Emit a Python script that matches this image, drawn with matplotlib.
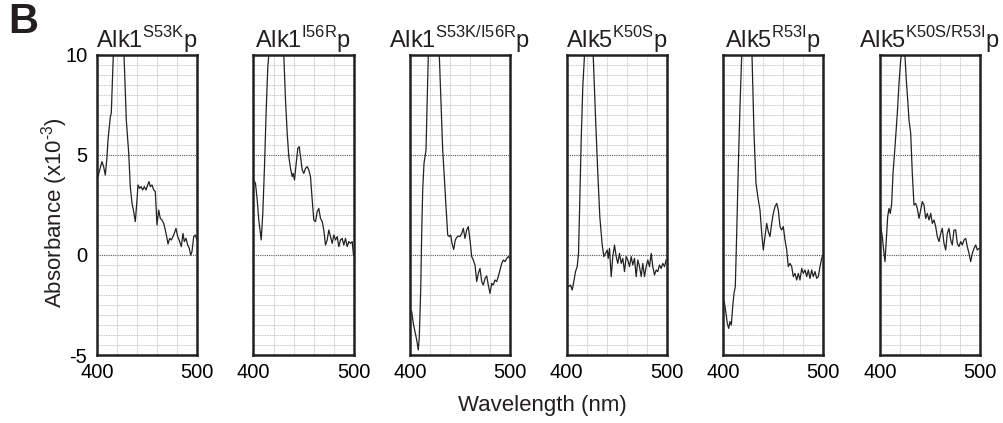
import numpy as np
import matplotlib.pyplot as plt
from matplotlib.ticker import MultipleLocator

plt.rcParams['font.family'] = ['Liberation Sans', 'DejaVu Sans']
plt.rcParams['mathtext.fontset'] = 'custom'
plt.rcParams['mathtext.rm'] = 'Liberation Sans'

# difference spectra (absorbance x1e-3) for each mutant, 400-500 nm
titles = [
    r"Alk1$^{\mathregular{S53K}}$p",
    r"Alk1$^{\mathregular{I56R}}$p",
    r"Alk1$^{\mathregular{S53K/I56R}}$p",
    r"Alk5$^{\mathregular{K50S}}$p",
    r"Alk5$^{\mathregular{R53I}}$p",
    r"Alk5$^{\mathregular{K50S/R53I}}$p",
]

alk1_s53k_wl = [400, 402.7, 405, 406.7, 408.3, 410, 411, 412.3, 413.3, 414.3, 416.3, 421, 427,
                429.3, 431.7, 433.3, 435, 436.7, 438.3, 440, 441, 442.7, 444, 445.7, 447.3, 449,
                450.7, 452, 453.3, 455, 456.7, 458.3, 460, 461.7, 463.3, 465, 466.7, 468.3, 470,
                471, 472.7, 474.3, 476, 477.3, 479, 480.7, 482.7, 484.3, 486, 487.3, 489, 490.7,
                492.3, 493.7, 495, 496.7, 498.3, 500]
alk1_s53k_abs = [3.75, 4.25, 4.67, 4.4, 4.0, 4.9, 5.75, 6.4, 6.9, 7.1, 10, 14, 10,
                 6.75, 5.1, 3.4, 2.6, 2.17, 1.67, 2.75, 3.5, 3.33, 3.42, 3.25, 3.42, 3.25,
                 3.5, 3.67, 3.42, 3.5, 3.25, 3.17, 1.5, 2.25, 1.83, 1.75, 1.58, 1.25, 0.83,
                 0.55, 0.83, 0.75, 0.92, 1.08, 1.33, 0.92, 0.67, 0.42, 1.08, 0.67, 0.83, 0.5,
                 0.33, 0.0, 0.17, 0.92, 1.0, 0.75]

alk1_i56r_wl = [400.3, 402, 403.7, 405.3, 407.7, 409.3, 411, 412.7, 414.3, 415.3, 423, 430.3,
                432, 433.7, 435.3, 437, 438.7, 439.7, 441, 442.7, 444.3, 445.7, 447, 448.7,
                450.3, 452, 453.7, 455.3, 457, 458.7, 460.3, 462, 463.7, 465.3, 467, 468.7,
                470.3, 472, 473.7, 475.3, 477, 478.7, 480.3, 482, 483.7, 485.3, 487, 488.7,
                490.3, 492, 493.7, 495.3, 497, 498.7, 500]
alk1_i56r_abs = [3.75, 3.58, 2.75, 1.75, 0.75, 2.08, 4.42, 7.25, 9.4, 10, 14, 10,
                 7.75, 6.08, 4.92, 4.33, 3.92, 4.08, 3.75, 4.58, 5.33, 5.42, 4.92, 4.25,
                 4.08, 4.33, 4.42, 4.25, 3.92, 2.75, 1.75, 1.67, 2.17, 2.33, 1.83, 1.67,
                 1.25, 0.5, 0.75, 1.25, 0.92, 0.58, 1.0, 0.75, 0.92, 0.42, 0.75, 0.83,
                 0.5, 0.83, 0.42, 0.67, 0.58, 0.67, 0.0]

alk1_dbl_wl = [400, 401.7, 403.3, 405, 406.7, 408.3, 409.3, 410.7, 411.7, 412.7, 414, 416,
               418.3, 424, 429.3, 432.7, 434.3, 436, 437.7, 439.3, 440.7, 442, 443.7, 445.3,
               446.7, 448.3, 450, 451.7, 453.3, 455, 456.7, 458.3, 460, 461.7, 463.3, 465,
               466.7, 468.3, 470, 471.7, 473.3, 475, 476.7, 478.3, 480, 481.7, 483.3, 485,
               486.7, 488.3, 490, 491.7, 493.3, 495, 496.7, 498.3, 500]
alk1_dbl_abs = [-2.75, -2.83, -3.42, -3.83, -4.25, -4.75, -4.08, -1.75, 1.08, 3.25, 4.58, 5.25,
                10, 14, 10, 5.25, 3.92, 2.42, 1.0, 0.92, 1.0, 0.58, 0.28, 0.75,
                0.88, 0.95, 0.92, 1.08, 1.33, 0.83, 1.25, 1.42, 0.75, -0.08, -0.25, -0.5,
                -1.33, -0.92, -0.67, -1.33, -1.5, -1.17, -1.05, -1.5, -1.92, -1.42, -1.5, -1.25,
                -1.33, -1.08, -0.75, -0.42, -0.25, -0.33, -0.17, -0.08, -0.17]

alk5_k50s_wl = [400.7, 402.3, 404, 405.7, 407.3, 409, 410.7, 412, 413.3, 414.7, 416.3, 418,
                422, 426.7, 429, 431.3, 433.3, 435.7, 437.3, 439, 440.7, 441.7, 443, 444.7,
                446.3, 448, 449.7, 451.3, 453, 454.7, 456.3, 458, 459.7, 461.3, 463, 464.7,
                466.3, 468, 469.7, 471.3, 473, 474.7, 476.3, 478, 479.7, 481.3, 483, 484.7,
                486.3, 488, 489.7, 491.3, 493, 494.7, 496.3, 498, 499.7]
alk5_k50s_abs = [-1.5, -1.58, -1.5, -1.75, -1.33, -0.83, -0.58, 0.08, 2.75, 5.75, 8.42, 10,
                 14, 10, 6.92, 4.08, 1.92, 0.5, -0.08, 0.08, 0.25, -0.17, 0.33, -1.08,
                 -0.08, 0.5, -0.08, -0.42, 0.08, -0.42, -0.17, -0.83, -0.08, -0.25, -0.58, -0.08,
                 -0.5, -0.17, -1.08, -0.25, -0.58, -1.08, -0.42, -1.08, -0.58, -0.25, -0.58, 0.08,
                 -0.58, -1.0, -0.75, -0.83, -0.5, -0.67, -0.42, -0.58, -0.25]

alk5_r53i_wl = [401.3, 403, 404.3, 405.7, 407, 408.3, 409.7, 411, 412.3, 413.7, 415.3, 417,
                418.7, 424, 429, 431, 433, 435.3, 437, 438.7, 440.3, 442, 443.7, 445.3,
                447, 448.7, 450.3, 452, 453.7, 455.3, 457, 458.7, 460.3, 462, 463.7, 465.3,
                467, 468.7, 470.3, 472, 473.7, 475.3, 477, 478.7, 480.3, 482, 483.7, 485.3,
                487, 488.7, 490.3, 492, 493.7, 495.3, 497, 498.7, 500]
alk5_r53i_abs = [-2.33, -2.92, -3.42, -3.67, -3.33, -3.5, -2.58, -1.92, -1.58, 1.08, 4.42, 7.42,
                 10, 14, 10, 6.08, 3.58, 2.75, 2.25, 1.08, 0.25, 0.92, 1.58, 1.17,
                 0.92, 1.58, 2.08, 2.42, 2.58, 2.25, 1.42, 1.25, 1.42, 0.75, 0.25, -0.58,
                 -0.42, -0.58, -1.08, -0.92, -1.25, -0.92, -1.25, -0.67, -0.92, -0.75, -1.08, -0.75,
                 -1.17, -0.75, -1.08, -0.83, -1.17, -1.08, -0.58, -0.17, 0.0]

alk5_dbl_wl = [400.7, 402.3, 404, 405, 406.3, 407.7, 409, 410.3, 411.7, 413, 414.3, 415.7,
               417.3, 419, 420.7, 421.7, 423, 425, 426.3, 427.7, 429, 430.7, 432.3, 434,
               435.7, 437.3, 439, 440.7, 442.3, 444, 445.7, 447.3, 449, 450.7, 452.3, 454,
               455.7, 457.3, 459, 460.7, 462.3, 464, 465.7, 467.3, 469, 470.7, 472.3, 474,
               475.7, 477.3, 479, 480.7, 482.3, 484, 485.7, 487.3, 489, 490.7, 492.3, 494,
               495.7, 497.3, 499]
alk5_dbl_abs = [1.42, 0.92, 0.08, -0.33, 0.75, 1.92, 2.33, 2.08, 2.58, 4.08, 4.92, 5.92,
                7.08, 8.58, 9.75, 10.1, 10.3, 9.92, 8.75, 7.75, 6.75, 6.08, 4.08, 2.5,
                2.58, 2.33, 1.83, 2.25, 2.67, 2.5, 1.83, 2.08, 1.75, 2.08, 1.58, 1.75,
                1.42, 0.92, 0.67, 1.08, 1.33, 0.58, 0.25, 1.08, 1.33, 0.75, 0.5, 1.25,
                1.25, 0.58, 0.42, 0.67, 0.5, 0.75, 0.83, 0.42, 0.08, -0.33, 0.08, 0.33,
                0.5, 0.25, 0.33]

spectra = [
    (alk1_s53k_wl, alk1_s53k_abs),
    (alk1_i56r_wl, alk1_i56r_abs),
    (alk1_dbl_wl, alk1_dbl_abs),
    (alk5_k50s_wl, alk5_k50s_abs),
    (alk5_r53i_wl, alk5_r53i_abs),
    (alk5_dbl_wl, alk5_dbl_abs),
]

W, H = 1004, 423
fig = plt.figure(figsize=(W / 100, H / 100), dpi=100)

lefts = [97, 253.5, 410, 566.5, 723, 880]
ink = '#231f20'

for i, (left, title, (wl, ab)) in enumerate(zip(lefts, titles, spectra)):
    ax = fig.add_axes([left / W, (H - 355) / H, 100 / W, 300 / H])
    ax.set_xlim(400, 500)
    ax.set_ylim(-5, 10)

    # background grid: fine dotted lines, darker at 0 and 5
    ax.xaxis.set_minor_locator(MultipleLocator(20))
    ax.yaxis.set_minor_locator(MultipleLocator(0.5))
    ax.grid(which='minor', axis='both', color='#b0b0b0', linestyle=(0, (1, 1)), linewidth=0.6)
    for y0 in (0, 5):
        ax.axhline(y0, color='#555555', linestyle=(0, (1, 1)), linewidth=0.8, zorder=1)

    ax.plot(wl, ab, color='#222222', linewidth=0.9, zorder=3)

    ax.set_xticks([400, 500])
    ax.set_xticklabels(['400', '500'], fontsize=14.5)
    ax.set_yticks([-5, 0, 5, 10])
    if i == 0:
        ax.set_yticklabels(['-5', '0', '5', '10'], fontsize=14.5)
    else:
        ax.set_yticklabels([])
    ax.tick_params(which='both', length=0, pad=6)
    ax.tick_params(axis='y', pad=7)
    for s in ax.spines.values():
        s.set_linewidth(1.8)
        s.set_color(ink)

    ax.set_title(title, fontsize=17, pad=3, color=ink)

fig.text(55 / W, (H - 213) / H, r"Absorbance (x10$^{\mathregular{\text{-}3}}$)", rotation=90,
         ha='center', va='center', fontsize=16, color=ink)
fig.text(542 / W, (H - 405) / H, "Wavelength (nm)", ha='center', va='center',
         fontsize=16, color=ink)
fig.text(8 / W, (H - 22) / H, "B", ha='left', va='center', fontsize=30,
         fontweight='bold', color=ink)

fig.savefig('out.png', dpi=100)
